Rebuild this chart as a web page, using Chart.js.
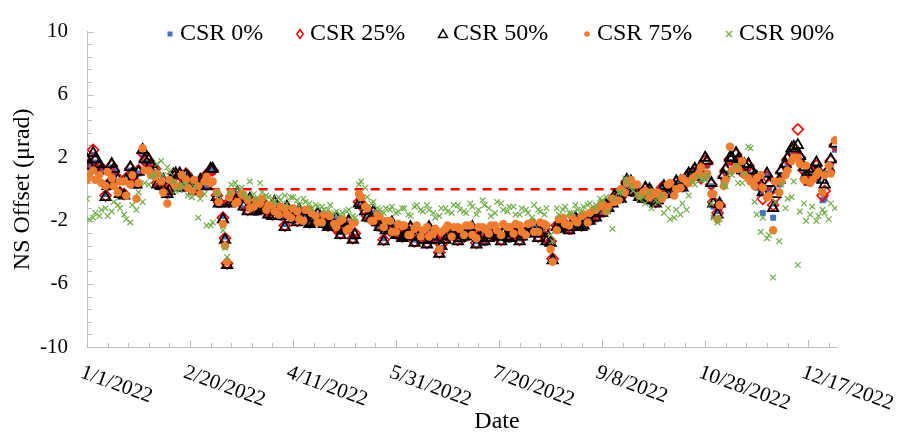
<!DOCTYPE html>
<html>
<head>
<meta charset="utf-8">
<script src="https://cdn.jsdelivr.net/npm/chart.js@4.4.1/dist/chart.umd.min.js"></script>
<style>
  html, body { margin: 0; padding: 0; background: #fff; }
  canvas { display: block; }
</style>
</head>
<body>
<canvas id="offset-chart" width="907" height="433"></canvas>
<script>
// day of year 2022 (0 = 1/1/2022), first group of readings
const days = [
  0, 3, 6, 9, 12, 15, 18, 21, 24, 27,
  30, 33, 36, 39, 42, 45, 48, 51, 54, 57,
  60, 63, 66, 67, 68, 69, 72, 75, 78, 81,
  84, 87, 90, 93, 96, 99, 102, 105, 108, 111,
  114, 117, 120, 123, 126, 129, 132, 135, 138, 141,
  144, 147, 150, 153, 156, 159, 162, 165, 168, 171,
  174, 177, 180, 183, 186, 189, 192, 195, 198, 201,
  204, 207, 210, 213, 216, 219, 222, 225, 226, 228,
  231, 234, 237, 240, 243, 246, 249, 252, 255, 258,
  261, 264, 267, 270, 273, 276, 279, 282, 285, 288,
  291, 294, 297, 300, 303, 306, 309, 312, 315, 318,
  321, 324, 327, 330, 333, 336, 339, 342, 345, 348,
  351, 354, 357, 360, 363
];

const csr0 = [
  1.7, 2.2, 1.4, -0.3, 1.4, 0.5, -0.2, 1.2, 0.2, 2.2,
  1.7, 1.1, 0.1, -0.4, 0.8, 0.8, 0.8, 0.3, 0.2, 0.6,
  1.3, -0.3, -1.7, -3.0, -4.6, -0.7, -0.5, -0.4, -1.2, -0.8,
  -1.1, -1.0, -1.5, -1.3, -2.2, -1.4, -1.9, -1.6, -2.0, -1.8,
  -1.7, -2.2, -2.1, -2.7, -2.3, -3.0, -0.7, -1.2, -1.7, -1.9,
  -3.1, -2.4, -2.7, -2.9, -2.6, -3.2, -2.7, -3.3, -2.8, -3.9,
  -3.0, -2.7, -3.1, -2.8, -2.6, -3.3, -2.7, -2.9, -2.6, -3.1,
  -2.8, -2.5, -3.1, -2.6, -2.4, -2.9, -2.4, -3.2, -4.3, -2.2,
  -2.0, -2.4, -1.7, -2.2, -1.7, -1.4, -1.3, -0.9, -0.7, -0.3,
  0.2, 0.5, 0.0, -0.4, 0.1, -0.7, 0.2, -0.1, 0.2, 0.5,
  0.7, 0.9, 1.0, 1.5, 0.2, -1.4, 0.6, 1.7, 1.9, 1.0,
  1.3, 0.6, -0.2, 0.9, -1.8, 0.3, 1.3, 2.2, 2.3, 1.0,
  0.8, 1.3, -0.7, 1.0, 2.5
];

const csr25 = [
  1.8, 2.5, 1.5, -0.4, 1.5, 0.7, -0.3, 1.3, 0.4, 2.3,
  1.8, 1.3, 0.3, -0.2, 1.0, 0.9, 1.0, 0.4, 0.4, 0.8,
  1.2, -0.4, -1.8, -3.1, -4.7, -0.8, -0.6, -0.6, -1.3, -0.9,
  -1.2, -1.2, -1.6, -1.5, -2.3, -1.5, -2.0, -1.8, -2.1, -1.9,
  -1.8, -2.3, -2.4, -2.8, -2.4, -3.1, -0.8, -1.3, -1.9, -2.0,
  -3.2, -2.6, -2.8, -3.0, -2.8, -3.3, -2.8, -3.4, -2.9, -4.0,
  -3.1, -2.8, -3.2, -3.0, -2.7, -3.4, -2.8, -3.0, -2.8, -3.2,
  -2.9, -2.7, -3.2, -2.7, -2.6, -3.0, -2.5, -3.3, -4.4, -2.3,
  -2.1, -2.5, -1.9, -2.3, -1.8, -1.6, -1.4, -1.1, -0.8, -0.4,
  0.1, 0.4, -0.1, -0.5, -0.1, -0.8, 0.1, -0.2, 0.1, 0.4,
  0.7, 1.0, 1.2, 1.8, 0.3, -1.5, 0.8, 1.9, 2.2, 1.1,
  1.5, 0.8, 0.2, 0.8, -1.0, 0.5, 1.5, 2.4, 3.8, 1.2,
  1.0, 1.5, -0.4, 1.2, 2.8
];

const csr50 = [
  1.9, 2.3, 1.6, -0.5, 1.6, 0.6, -0.4, 1.4, 0.3, 2.5,
  1.9, 1.2, 0.2, -0.3, 0.9, 1.0, 0.9, 0.5, 0.3, 0.7,
  1.3, -0.5, -1.9, -3.2, -4.8, -0.9, -0.7, -0.5, -1.4, -1.0,
  -1.3, -1.1, -1.7, -1.4, -2.4, -1.6, -2.1, -1.7, -2.2, -2.0,
  -1.9, -2.4, -2.3, -2.9, -2.5, -3.2, -0.9, -1.4, -1.8, -2.1,
  -3.3, -2.5, -2.9, -3.1, -2.7, -3.4, -2.9, -3.5, -3.0, -4.1,
  -3.2, -2.9, -3.3, -2.9, -2.8, -3.5, -2.9, -3.1, -2.7, -3.3,
  -3.0, -2.6, -3.3, -2.8, -2.5, -3.1, -2.6, -3.4, -4.5, -2.4,
  -2.2, -2.6, -1.8, -2.4, -1.9, -1.5, -1.5, -1.0, -0.9, -0.3,
  0.2, 0.5, -0.2, -0.6, 0.0, -0.9, 0.0, -0.3, 0.2, 0.5,
  0.8, 1.1, 1.3, 2.0, 0.4, -1.6, 0.9, 2.0, 2.3, 1.2,
  1.6, 0.9, 0.3, 1.0, -1.2, 0.6, 1.6, 2.6, 2.8, 1.4,
  1.1, 1.7, 0.6, 1.3, 2.9
];

const csr75 = [
  0.6, 1.2, 0.9, 0.2, 0.7, -0.2, 0.5, 0.3, -0.6, 2.6,
  1.2, 0.8, 0.5, -0.9, 0.4, 0.2, 0.6, -0.1, 0.2, 0.5,
  0.4, -0.2, -2.2, -3.6, -4.6, -0.5, -0.9, -0.3, -0.7, -1.1,
  -0.9, -1.3, -1.0, -1.6, -1.2, -1.8, -1.4, -2.0, -1.3, -1.7,
  -2.1, -1.6, -2.2, -2.0, -2.6, -2.1, -0.3, -1.1, -2.0, -1.6,
  -2.4, -2.0, -2.7, -2.3, -2.9, -2.5, -3.0, -2.4, -2.8, -3.8,
  -2.5, -3.0, -2.4, -2.9, -2.3, -3.1, -2.4, -2.8, -2.3, -2.9,
  -2.4, -2.8, -2.3, -2.9, -2.1, -2.7, -2.2, -3.8, -4.6, -2.6,
  -1.8, -2.3, -2.0, -1.7, -2.1, -1.3, -1.1, -1.4, -0.6, -0.7,
  -0.2, 0.6, 0.3, -0.2, -0.5, -0.3, -0.6, 0.3, -0.4, 0.1,
  0.5, 0.7, 1.0, 0.8, -0.3, -1.9, 0.2, 2.7, 1.4, 1.8,
  0.7, 0.2, 0.9, -0.5, -2.6, -0.2, 0.9, 1.8, 2.0, 0.6,
  0.4, 0.9, -0.2, 1.5, 3.1
];

const csr90 = [
  -0.6, -1.8, -1.7, -1.2, -1.4, -1.0, -1.6, -2.1, -1.3, -0.8,
  0.3, 0.9, 1.8, 1.4, 0.5, 0.0, 0.3, -0.5, -1.8, -0.3,
  -2.3, -0.2, -2.6, -3.7, -4.3, -0.2, 0.4, 0.1, -0.5, -0.3,
  0.4, -0.4, -0.6, -0.5, -0.4, -0.5, -0.7, -0.6, -0.9, -1.0,
  -1.1, -1.3, -1.5, -1.6, -1.4, -1.7, 0.3, 0.1, -0.9, -1.2,
  -1.5, -1.3, -1.5, -1.2, -1.6, -1.1, -1.3, -1.0, -1.5, -1.7,
  -1.2, -1.5, -1.0, -1.4, -0.9, -1.6, -0.7, -1.2, -1.5, -0.9,
  -1.4, -1.1, -1.6, -1.3, -1.8, -1.3, -1.6, -2.9, -3.3, -1.2,
  -1.3, -1.5, -1.0, -1.4, -1.0, -1.2, -0.6, -0.5, -2.5, -0.2,
  0.7, 0.2, -0.3, -0.5, -0.2, -0.7, -0.4, -1.2, -1.8, -1.6,
  -1.3, 0.5, 0.8, 0.6, -0.9, -2.1, 0.3, 1.0, 1.5, 0.4,
  2.7, -0.8, -2.7, -3.1, -5.6, -3.3, -1.2, -0.5, -4.8, -0.9,
  -1.6, -2.0, -1.3, -1.9, -1.2
];

// second group of readings, days in between
const daysB = [
  1, 4, 7, 10, 13, 16, 19, 22, 25, 28,
  31, 34, 37, 40, 43, 46, 49, 52, 55, 58,
  61, 64, 70, 73, 76, 79, 82, 85, 88, 91,
  94, 97, 100, 103, 106, 109, 112, 115, 118, 121,
  124, 127, 130, 133, 136, 139, 142, 145, 148, 151,
  154, 157, 160, 163, 166, 169, 172, 175, 178, 181,
  184, 187, 190, 193, 196, 199, 202, 205, 208, 211,
  214, 217, 220, 223, 229, 232, 235, 238, 241, 244,
  247, 250, 253, 256, 259, 262, 265, 268, 271, 274,
  277, 280, 283, 286, 289, 292, 295, 298, 301, 304,
  307, 310, 313, 316, 319, 322, 325, 328, 331, 334,
  337, 340, 343, 346, 349, 352, 355, 358, 361
];

const csr0B = [
  1.4, 1.7, 1.1, 0.1, 1.1, -0.4, 0.5, 0.8, 1.0, 1.7,
  1.4, 0.2, 0.4, -0.2, 0.8, 0.0, 0.6, -0.2, 0.4, 0.1,
  1.1, -1.0, -0.9, -0.3, -1.2, -0.7, -1.5, -1.3, -1.7, -0.9,
  -1.8, -1.2, -2.0, -1.4, -1.9, -2.2, -1.6, -2.3, -2.4, -1.9,
  -2.7, -2.1, -3.0, -1.1, -1.9, -1.5, -2.5, -2.7, -2.2, -3.0,
  -3.1, -2.5, -3.1, -3.3, -2.5, -3.3, -3.7, -3.1, -3.0, -3.2,
  -3.1, -2.5, -3.2, -3.4, -3.0, -3.1, -2.9, -3.2, -2.9, -3.1,
  -2.9, -2.4, -2.9, -3.4, -2.6, -2.4, -2.5, -2.3, -2.4, -2.1,
  -1.9, -1.6, -1.3, -0.5, -0.7, 0.5, -0.3, -0.6, 0.0, -0.8,
  -0.8, 0.1, -0.3, 0.4, 0.0, 0.9, 1.1, 0.6, 1.5, -1.1,
  -1.2, 1.0, 1.7, 1.6, 1.2, 0.9, 0.1, -1.5, 0.0, -0.9,
  0.9, 1.6, 2.2, 1.8, 0.4, 0.9, 0.6, -0.6, 1.4
];

const csr25B = [
  1.6, 1.8, 1.3, 0.3, 1.2, -0.2, 0.7, 0.9, 1.2, 1.8,
  1.5, 0.4, 0.5, 0.0, 0.9, 0.2, 0.7, 0.0, 0.5, 0.3,
  1.2, -0.8, -0.7, -0.3, -1.0, -0.7, -1.3, -1.1, -1.5, -0.9,
  -1.6, -1.2, -1.8, -1.4, -1.7, -2.0, -1.6, -2.1, -2.2, -1.9,
  -2.5, -2.1, -2.8, -0.9, -1.7, -1.5, -2.3, -2.5, -2.2, -2.8,
  -2.9, -2.5, -2.9, -3.1, -2.5, -3.1, -3.5, -2.9, -2.8, -3.0,
  -2.9, -2.5, -3.0, -3.2, -2.8, -2.9, -2.7, -3.0, -2.7, -2.9,
  -2.7, -2.4, -2.7, -3.2, -2.4, -2.2, -2.5, -2.1, -2.2, -1.9,
  -1.7, -1.4, -1.1, -0.5, -0.5, 0.5, -0.1, -0.4, 0.0, -0.6,
  -0.6, 0.1, -0.1, 0.4, 0.2, 0.9, 1.2, 0.7, 1.7, -0.8,
  -1.0, 1.2, 1.9, 1.8, 1.5, 1.1, 0.5, -0.6, 0.3, -0.5,
  1.1, 1.9, 2.6, 2.0, 0.6, 1.2, 0.9, -0.1, 1.8
];

const csr50B = [
  1.5, 1.9, 1.2, 0.2, 1.3, -0.3, 0.6, 1.0, 1.1, 1.9,
  1.6, 0.3, 0.6, -0.1, 1.0, 0.1, 0.8, -0.1, 0.6, 0.2,
  1.3, -0.9, -0.8, -0.2, -1.1, -0.6, -1.4, -1.2, -1.6, -0.8,
  -1.7, -1.1, -1.9, -1.3, -1.8, -2.1, -1.5, -2.2, -2.3, -1.8,
  -2.6, -2.0, -2.9, -1.0, -1.8, -1.4, -2.4, -2.6, -2.1, -2.9,
  -3.0, -2.4, -3.0, -3.2, -2.4, -3.2, -3.6, -3.0, -2.9, -3.1,
  -3.0, -2.4, -3.1, -3.3, -2.9, -3.0, -2.8, -3.1, -2.8, -3.0,
  -2.8, -2.3, -2.8, -3.3, -2.5, -2.3, -2.4, -2.2, -2.3, -2.0,
  -1.8, -1.5, -1.2, -0.4, -0.6, 0.6, -0.2, -0.5, 0.1, -0.7,
  -0.7, 0.2, -0.2, 0.5, 0.1, 1.0, 1.3, 0.8, 1.8, -0.9,
  -0.9, 1.3, 2.0, 1.9, 1.6, 1.2, 0.8, -0.2, 0.4, -0.3,
  1.2, 2.0, 2.7, 2.1, 0.9, 1.3, 1.2, 0.3, 1.9
];

const csr75B = [
  0.9, 0.6, 0.4, 1.1, 0.2, 0.5, -0.4, 0.9, 0.4, 1.2,
  0.9, 1.0, -0.2, 0.6, 0.2, 0.9, 0.1, 0.6, -0.3, 0.8,
  0.5, -0.8, -0.2, -0.8, -0.4, -1.2, -0.7, -0.6, -1.0, -1.4,
  -1.1, -1.6, -1.2, -1.9, -1.3, -1.5, -2.1, -1.6, -1.7, -2.4,
  -1.9, -2.5, -2.1, -0.5, -1.2, -2.0, -1.7, -2.0, -2.7, -2.2,
  -2.3, -2.9, -2.3, -2.6, -3.0, -2.5, -2.7, -2.3, -2.4, -2.5,
  -2.3, -2.9, -2.4, -2.5, -2.3, -2.6, -2.2, -2.4, -2.2, -2.7,
  -2.2, -2.7, -2.1, -2.3, -1.9, -2.2, -1.7, -2.1, -1.6, -1.5,
  -1.3, -0.9, -1.1, -0.8, 0.0, 0.4, 0.3, -0.4, -0.1, -0.2,
  -0.2, -0.4, 0.4, 0.0, 0.7, 0.4, 0.8, 1.4, 1.0, -0.3,
  -1.0, 0.6, 1.2, 1.3, 0.9, 0.5, 0.7, 0.1, -0.4, 0.5,
  0.5, 1.2, 2.0, 1.6, 1.5, 0.6, 1.1, 0.9, 1.0
];

const csr90B = [
  -1.9, -1.5, -1.3, -1.7, -0.8, -1.2, -1.9, -1.0, -0.2, 0.4,
  0.8, 1.6, 0.9, 1.1, -0.1, 0.3, -0.4, 0.2, -0.6, -2.3,
  -2.1, -0.4, 0.3, 0.1, -0.3, 0.5, -0.6, -0.2, -0.5, -0.8,
  -0.7, -0.9, -0.5, -1.0, -0.8, -1.2, -1.1, -1.3, -1.0, -1.4,
  -1.5, -1.3, -1.8, 0.5, -0.5, -0.8, -1.3, -1.2, -1.1, -1.4,
  -1.2, -1.7, -1.0, -1.4, -1.3, -1.8, -1.2, -1.4, -1.0, -1.3,
  -1.5, -1.1, -1.3, -1.0, -1.7, -0.8, -1.3, -1.1, -1.6, -1.2,
  -1.5, -1.0, -1.4, -1.2, -1.6, -1.1, -1.5, -1.3, -1.1, -0.9,
  -1.0, -0.7, -1.4, -0.6, -0.2, 0.5, -0.1, -0.6, -0.9, -1.2,
  -0.8, -1.5, -1.9, -1.3, -0.9, -0.4, 0.3, 0.6, 0.9, -1.8,
  -1.9, 0.2, 0.9, 0.4, 1.0, 2.6, -1.6, -1.8, -2.9, -0.8,
  0.3, -0.6, 0.5, -1.4, -2.0, -1.1, -1.7, -1.5, -0.9
];

// zero reference line
const refDays = [60, 270];
const refValues = [0, 0];

const dateTickDays = [0, 50, 100, 150, 200, 250, 300, 350];
const dateTickLabels = ['1/1/2022', '2/20/2022', '4/11/2022', '5/31/2022', '7/20/2022', '9/8/2022', '10/28/2022', '12/17/2022'];
const seriesNames = ['CSR 0%', 'CSR 25%', 'CSR 50%', 'CSR 75%', 'CSR 90%'];

const serif = "'Liberation Serif', 'Times New Roman', serif";
const toPoints = (xs, ys) => xs.map((d, i) => ({ x: d, y: ys[i] }));

const drawMarker = (ctx, kind, x, y, s) => {
    ctx.beginPath();
    if (kind === 'square') {
        ctx.fillStyle = '#4472C4';
        ctx.fillRect(x - s / 2, y - s / 2, s, s);
    } else if (kind === 'diamond') {
        ctx.strokeStyle = '#FF0000';
        ctx.lineWidth = 1.5;
        ctx.moveTo(x, y - s); ctx.lineTo(x + s * 0.7, y); ctx.lineTo(x, y + s); ctx.lineTo(x - s * 0.7, y); ctx.closePath();
        ctx.stroke();
    } else if (kind === 'triangle') {
        ctx.strokeStyle = '#000';
        ctx.lineWidth = 1.5;
        ctx.moveTo(x, y - s); ctx.lineTo(x + s, y + s * 0.8); ctx.lineTo(x - s, y + s * 0.8); ctx.closePath();
        ctx.stroke();
    } else if (kind === 'circle') {
        ctx.fillStyle = '#ED7D31';
        ctx.arc(x, y, s, 0, Math.PI * 2);
        ctx.fill();
    } else {
        ctx.strokeStyle = '#70AD47';
        ctx.lineWidth = 1.2;
        ctx.moveTo(x - s, y - s); ctx.lineTo(x + s, y + s);
        ctx.moveTo(x + s, y - s); ctx.lineTo(x - s, y + s);
        ctx.stroke();
    }
};

const decorations = {
    id: 'decorations',
    beforeDatasetsDraw(chart) {
        const { ctx, chartArea: a, scales: { x, y } } = chart;
        ctx.save();
        ctx.strokeStyle = '#BFBFBF';
        ctx.lineWidth = 1;
        ctx.beginPath();
        // y tick marks, inside the plot
        for (let k = 0; k <= 25; k++) {
            const v = -10 + k * 0.8;
            const py = Math.round(y.getPixelForValue(v)) + 0.5;
            const len = (k % 5 === 0) ? 7 : 5;
            ctx.moveTo(a.left, py);
            ctx.lineTo(a.left + len, py);
        }
        // x tick marks every 10 days
        for (let d = 0; d <= 360; d += 10) {
            const px = Math.round(x.getPixelForValue(d)) + 0.5;
            const len = (d % 50 === 0) ? 7 : 4;
            ctx.moveTo(px, a.bottom);
            ctx.lineTo(px, a.bottom - len);
        }
        ctx.stroke();
        ctx.restore();
    },
    afterDraw(chart) {
        const { ctx, chartArea: a, scales: { x } } = chart;
        ctx.save();
        ctx.fillStyle = '#000';

        // rotated date labels
        ctx.font = '21px ' + serif;
        ctx.textAlign = 'left';
        ctx.textBaseline = 'top';
        dateTickDays.forEach((d, i) => {
            const px = x.getPixelForValue(d);
            ctx.save();
            ctx.translate(px - 2, a.bottom + 15);
            ctx.rotate(20 * Math.PI / 180);
            ctx.fillText(dateTickLabels[i], 0, 0);
            ctx.restore();
        });

        // axis titles
        ctx.font = '24px ' + serif;
        ctx.textAlign = 'center';
        ctx.textBaseline = 'middle';
        ctx.fillText('Date', 497, 422);
        ctx.save();
        ctx.translate(23, (a.top + a.bottom) / 2);
        ctx.rotate(-Math.PI / 2);
        ctx.fillText('NS Offset (μrad)', 0, 0);
        ctx.restore();

        // legend
        const legendX = [170, 300, 443, 587, 729];
        const kinds = ['square', 'diamond', 'triangle', 'circle', 'cross'];
        const sizes = [5, 4.5, 4.5, 2.8, 3];
        const ly = 34;
        ctx.font = '24px ' + serif;
        ctx.textAlign = 'left';
        ctx.textBaseline = 'middle';
        seriesNames.forEach((name, i) => {
            drawMarker(ctx, kinds[i], legendX[i], ly, sizes[i]);
            ctx.fillStyle = '#000';
            ctx.fillText(name, legendX[i] + 10, ly);
        });
        ctx.restore();
    }
};

const ctx = document.getElementById('offset-chart').getContext('2d');

new Chart(ctx, {
    type: 'scatter',
    data: {
        datasets: [
            {
                label: 'zero',
                data: toPoints(refDays, refValues),
                showLine: true,
                borderColor: '#FF0000',
                borderWidth: 2.5,
                borderDash: [9, 7],
                pointRadius: 0,
                order: 6
            },
            {
                label: seriesNames[0],
                data: toPoints(days, csr0).concat(toPoints(daysB, csr0B)),
                pointStyle: 'rect',
                pointRadius: 4.2,
                backgroundColor: '#4472C4',
                borderColor: '#4472C4',
                borderWidth: 0,
                order: 5
            },
            {
                label: seriesNames[1],
                data: toPoints(days, csr25).concat(toPoints(daysB, csr25B)),
                pointStyle: 'rectRot',
                pointRadius: 5.5,
                backgroundColor: 'rgba(0,0,0,0)',
                borderColor: '#FF0000',
                borderWidth: 1.6,
                order: 4
            },
            {
                label: seriesNames[2],
                data: toPoints(days, csr50).concat(toPoints(daysB, csr50B)),
                pointStyle: 'triangle',
                pointRadius: 6,
                backgroundColor: 'rgba(0,0,0,0)',
                borderColor: '#000000',
                borderWidth: 1.8,
                order: 3
            },
            {
                label: seriesNames[3],
                data: toPoints(days, csr75).concat(toPoints(daysB, csr75B)),
                pointStyle: 'circle',
                pointRadius: 4.2,
                backgroundColor: '#ED7D31',
                borderColor: '#ED7D31',
                borderWidth: 0,
                order: 2
            },
            {
                label: seriesNames[4],
                data: toPoints(days, csr90).concat(toPoints(daysB, csr90B)),
                pointStyle: 'crossRot',
                pointRadius: 4,
                borderColor: '#70AD47',
                borderWidth: 1.2,
                order: 1
            }
        ]
    },
    options: {
        responsive: false,
        animation: false,
        events: [],
        layout: { padding: { top: 20, right: 70, left: 0, bottom: 0 } },
        plugins: {
            legend: { display: false },
            tooltip: { enabled: false }
        },
        scales: {
            x: {
                type: 'linear',
                min: 0,
                max: 364,
                grid: { display: false },
                border: { color: '#BFBFBF', width: 1 },
                ticks: { display: false },
                afterFit: (scale) => { scale.height = 86; }
            },
            y: {
                min: -10,
                max: 10,
                grid: { display: false, drawTicks: false },
                border: { color: '#BFBFBF', width: 1 },
                ticks: {
                    stepSize: 4,
                    padding: 19,
                    color: '#000',
                    font: { family: serif, size: 21 }
                },
                afterFit: (scale) => { scale.width = 87; }
            }
        }
    },
    plugins: [decorations]
});
</script>
</body>
</html>
